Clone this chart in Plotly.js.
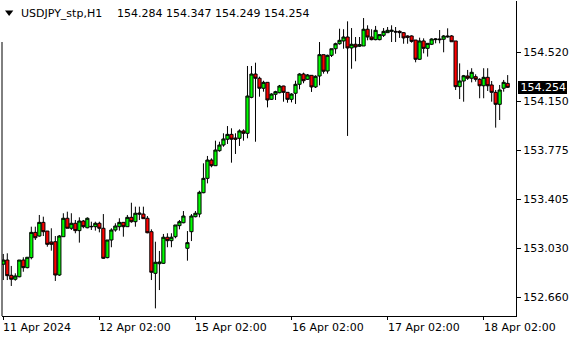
<!DOCTYPE html>
<html>
<head>
<meta charset="utf-8">
<script src="https://cdn.plot.ly/plotly-3.0.1.min.js"></script>
<style>html,body{margin:0;padding:0;background:#fff;}#chart{width:580px;height:340px;}</style>
</head>
<body>
<div id="chart"></div>
<script>
// ---- data (USDJPY_stp, H1) ----
const symbol = "USDJPY_stp,H1";
const open = [152.911,152.943,152.827,152.797,152.816,152.943,152.885,152.961,153.153,153.125,
153.229,153.163,153.080,153.082,152.829,153.120,153.260,153.184,153.222,153.166,
153.239,153.188,153.195,153.196,153.222,153.184,152.961,153.095,153.171,153.196,
153.229,153.196,153.267,153.234,153.300,153.292,153.260,153.158,152.842,152.915,
152.918,153.116,153.090,153.120,153.204,153.226,153.032,153.158,153.272,153.292,
153.454,153.563,153.702,153.659,153.773,153.816,153.860,153.897,153.869,153.867,
153.923,153.905,154.178,154.355,154.323,154.247,154.292,154.163,154.201,154.213,
154.264,154.216,154.163,154.209,154.277,154.355,154.315,154.345,154.257,154.340,
154.502,154.378,154.497,154.547,154.585,154.606,154.636,154.553,154.581,154.566,
154.568,154.695,154.636,154.616,154.616,154.649,154.669,154.679,154.679,154.679,
154.669,154.644,154.644,154.613,154.467,154.606,154.550,154.581,154.616,154.621,
154.619,154.644,154.644,154.606,154.259,154.302,154.340,154.323,154.335,154.315,
154.266,154.330,154.272,154.216,154.125,154.247,154.284];
const high = [152.989,152.994,152.898,152.842,152.943,152.964,152.964,153.196,153.196,153.285,
153.272,153.163,153.184,153.125,153.133,153.298,153.310,153.298,153.247,153.267,
153.247,153.267,153.234,153.234,153.234,153.292,153.095,153.184,153.222,153.260,
153.229,153.285,153.378,153.348,153.348,153.348,153.277,153.176,153.082,153.012,
153.141,153.146,153.146,153.209,153.247,153.315,153.163,153.292,153.315,153.469,
153.677,153.733,153.715,153.849,153.841,153.905,153.960,153.943,153.905,153.935,
153.935,154.416,154.416,154.441,154.335,154.304,154.292,154.209,154.228,154.272,
154.266,154.216,154.209,154.304,154.361,154.365,154.355,154.345,154.345,154.598,
154.502,154.502,154.547,154.593,154.699,154.695,154.755,154.704,154.636,154.636,
154.780,154.725,154.695,154.720,154.654,154.704,154.712,154.725,154.712,154.687,
154.674,154.649,154.649,154.613,154.631,154.626,154.588,154.626,154.626,154.689,
154.651,154.702,154.651,154.606,154.436,154.348,154.386,154.399,154.353,154.323,
154.399,154.399,154.302,154.234,154.272,154.310,154.347];
const low = [152.791,152.791,152.746,152.786,152.812,152.854,152.880,152.948,153.095,153.120,
153.125,153.044,153.014,152.784,152.822,153.120,153.184,153.171,153.146,153.075,
153.184,153.184,153.171,153.166,153.153,152.951,152.956,153.040,153.158,153.166,
153.120,153.196,153.226,153.196,153.247,153.257,153.146,152.791,152.576,152.715,
152.913,153.040,153.040,153.108,153.176,153.222,152.938,153.087,153.267,153.267,
153.450,153.525,153.647,153.657,153.765,153.803,153.824,153.682,153.748,153.809,
153.849,153.867,154.171,153.841,154.183,154.221,154.102,154.158,154.158,154.209,
154.145,154.137,154.140,154.128,154.239,154.285,154.310,154.219,154.249,154.269,
154.358,154.358,154.484,154.509,154.578,154.547,153.885,154.395,154.452,154.560,
154.568,154.611,154.611,154.611,154.611,154.636,154.669,154.598,154.598,154.629,
154.585,154.585,154.593,154.444,154.462,154.512,154.487,154.575,154.588,154.588,
154.520,154.631,154.600,154.234,154.165,154.145,154.310,154.292,154.297,154.171,
154.171,154.226,154.145,153.948,154.006,154.221,154.249];
const close = [152.943,152.824,152.797,152.822,152.943,152.885,152.964,153.153,153.112,153.229,
153.158,153.062,153.062,152.829,153.125,153.260,153.184,153.222,153.166,153.239,
153.196,153.260,153.198,153.222,153.184,152.956,153.095,153.171,153.201,153.229,
153.196,153.267,153.234,153.298,153.292,153.257,153.150,152.850,152.926,152.928,
153.116,153.090,153.116,153.209,153.234,153.277,153.075,153.277,153.298,153.457,
153.563,153.702,153.659,153.778,153.816,153.862,153.897,153.860,153.860,153.923,
153.905,154.188,154.355,154.323,154.247,154.292,154.158,154.203,154.221,154.264,
154.216,154.163,154.203,154.277,154.355,154.304,154.348,154.257,154.338,154.502,
154.376,154.497,154.547,154.585,154.611,154.636,154.553,154.581,154.560,154.578,
154.695,154.636,154.616,154.687,154.654,154.679,154.687,154.687,154.674,154.669,
154.629,154.634,154.603,154.467,154.606,154.550,154.588,154.621,154.621,154.616,
154.644,154.638,154.600,154.259,154.302,154.342,154.323,154.368,154.315,154.266,
154.330,154.266,154.216,154.125,154.234,154.292,154.254];
const timeLabels = ["11 Apr 2024","12 Apr 02:00","15 Apr 02:00","16 Apr 02:00","17 Apr 02:00","18 Apr 02:00"];
const timeLabelBar = [0, 24, 48, 72, 96, 120];
const priceTicks = [152.660, 153.030, 153.405, 153.775, 154.150, 154.520];
const priceTickText = ["152.660","153.030","153.405","153.775","154.150","154.520"];

// ---- layout helpers ----
const W = 580, H = 340;
const M = {l: 2, r: 64, t: 1, b: 24};
const PW = W - M.l - M.r, PH = H - M.t - M.b;
const px2x = p => (p - M.l) / PW;
const px2y = p => (H - M.b - p) / PH;
const FONT = "DejaVu Sans";

const n = close.length;
const idx = close.map((_, i) => i);
const last = n - 1;

const fmt = v => v.toFixed(3);

const trace = {
  type: "candlestick",
  x: idx, open: open, high: high, low: low, close: close,
  increasing: {line: {color: "#000000", width: 1}, fillcolor: "#00ff00"},
  decreasing: {line: {color: "#000000", width: 1}, fillcolor: "#ff0000"},
  whiskerwidth: 0,
  hoverinfo: "skip"
};

const annotations = [];
timeLabels.forEach((t, i) => {
  annotations.push({
    xref: "x", yref: "paper", x: timeLabelBar[i], y: 0,
    xanchor: "left", yanchor: "top", xshift: -2, yshift: -3,
    text: t, showarrow: false, font: {family: FONT, size: 11, color: "#000"}
  });
});
annotations.push({
  xref: "paper", yref: "paper", x: px2x(21), y: px2y(13.5),
  xanchor: "left", yanchor: "middle", xshift: -2,
  text: symbol, showarrow: false, font: {family: FONT, size: 11, color: "#000"}
});
annotations.push({
  xref: "paper", yref: "paper", x: px2x(116.5), y: px2y(13.5),
  xanchor: "left", yanchor: "middle", xshift: -2,
  text: [open[last], high[last], low[last], close[last]].map(fmt).join(" "),
  showarrow: false, font: {family: FONT, size: 11, color: "#000"}
});
annotations.push({
  xref: "paper", yref: "y", x: 1, y: close[last],
  xanchor: "left", yanchor: "middle", xshift: 1.5,
  text: fmt(close[last]), showarrow: false, width: 47, height: 11, align: "right",
  bgcolor: "#000", borderpad: 1, borderwidth: 0,
  font: {family: FONT, size: 11, color: "#fff"}
});

const tri = `M ${px2x(5)} ${px2y(10.5)} L ${px2x(13.3)} ${px2y(10.5)} L ${px2x(9.15)} ${px2y(16)} Z`;

const layout = {
  width: W, height: H,
  margin: {l: M.l, r: M.r, t: M.t, b: M.b, pad: 0},
  paper_bgcolor: "#fff", plot_bgcolor: "#fff",
  showlegend: false,
  boxgap: 0.2, boxgroupgap: 0,
  font: {family: FONT, size: 11, color: "#000"},
  xaxis: {
    range: [-0.325, 128.08], showgrid: false, zeroline: false,
    showline: true, linecolor: "#000", linewidth: 1,
    ticks: "outside", ticklen: 3, tickcolor: "#000", tickwidth: 1,
    tickmode: "array", tickvals: timeLabelBar, showticklabels: false,
    rangeslider: {visible: false}, fixedrange: true
  },
  yaxis: {
    side: "right", range: [152.518, 154.9094], showgrid: false, zeroline: false,
    showline: true, linecolor: "#000", linewidth: 1,
    ticks: "outside", ticklen: 4, tickcolor: "#000", tickwidth: 1,
    tickmode: "array", tickvals: priceTicks, ticktext: priceTickText,
    tickfont: {family: FONT, size: 11, color: "#000"}, fixedrange: true
  },
  shapes: [
    {type: "line", xref: "paper", yref: "paper", x0: 0, x1: 0, y0: 0, y1: px2y(42),
     line: {color: "#000", width: 1}},
    {type: "path", xref: "paper", yref: "paper", path: tri,
     fillcolor: "#000", line: {color: "#000", width: 0}}
  ],
  annotations: annotations
};

Plotly.newPlot("chart", [trace], layout, {staticPlot: true, displayModeBar: false});
</script>
</body>
</html>
